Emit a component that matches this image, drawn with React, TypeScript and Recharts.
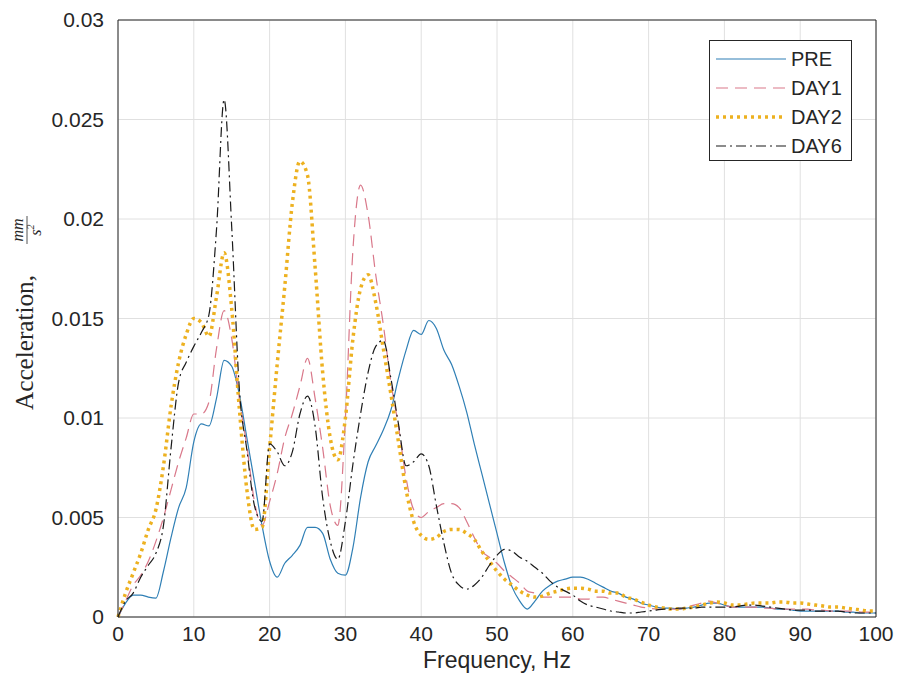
import React from 'react';
import { LineChart, Line, XAxis, YAxis, CartesianGrid, Legend, ReferenceLine } from 'recharts';

// frequency axis, Hz
const freq = [
  0, 1, 2, 3, 4, 5, 6, 7, 8, 9, 10, 11, 12, 13, 14, 15, 16, 17, 18, 19, 20,
  21, 22, 23, 24, 25, 26, 27, 28, 29, 30, 31, 32, 33, 34, 35, 36, 37, 38, 39, 40,
  41, 42, 43, 44, 45, 46, 47, 48, 49, 50, 51, 52, 53, 54, 55, 56, 57, 58, 59, 60,
  61, 62, 63, 64, 65, 66, 67, 68, 69, 70, 71, 72, 73, 74, 75, 76, 77, 78, 79, 80,
  81, 82, 83, 84, 85, 86, 87, 88, 89, 90, 91, 92, 93, 94, 95, 96, 97, 98, 99, 100,
];

// acceleration values in units of 0.001 mm/s^2
const pre = [
  0, 0.7, 1.1, 1.1, 1.0, 0.95, 2.3, 4.0, 5.5, 6.5, 8.8, 9.7, 9.6, 11.0, 12.9, 12.6, 11.2, 9.0, 6.8, 4.6, 2.8,
  2.0, 2.7, 3.1, 3.6, 4.5, 4.5, 4.2, 2.9, 2.2, 2.1, 3.5, 6.0, 7.8, 8.6, 9.4, 10.4, 12.0, 13.4, 14.4, 14.2,
  14.9, 14.5, 13.4, 12.7, 11.6, 10.3, 8.7, 7.2, 5.7, 4.2, 2.7, 1.5, 0.8, 0.4, 0.8, 1.3, 1.6, 1.8, 1.9, 2.0,
  2.0, 1.9, 1.7, 1.5, 1.3, 1.2, 1.0, 0.9, 0.7, 0.6, 0.5, 0.45, 0.45, 0.4, 0.45, 0.5, 0.6, 0.7, 0.7, 0.6,
  0.5, 0.5, 0.5, 0.5, 0.5, 0.45, 0.4, 0.4, 0.35, 0.3, 0.3, 0.3, 0.3, 0.3, 0.3, 0.25, 0.25, 0.2, 0.2, 0.2,
];
const day1 = [
  0, 0.8, 1.6, 2.1, 2.8, 3.8, 5.0, 6.4, 7.8, 9.0, 10.2, 10.2, 10.8, 13.5, 15.4, 14.0, 11.0, 8.6, 5.8, 4.6, 5.8,
  7.2, 9.0, 10.2, 11.6, 13.0, 11.0, 8.5, 5.6, 4.6, 10.0, 18.5, 21.7, 20.2, 17.2, 14.7, 11.8, 9.6, 7.0, 5.4, 5.0,
  5.3, 5.5, 5.7, 5.7, 5.5, 4.8, 4.0, 3.3, 3.0, 2.7, 2.3, 2.0, 1.7, 1.3, 1.2, 1.0, 1.0, 1.0, 1.0, 1.0,
  0.9, 0.9, 1.0, 1.0, 0.9, 0.8, 0.7, 0.6, 0.5, 0.45, 0.4, 0.4, 0.4, 0.4, 0.5, 0.6, 0.7, 0.8, 0.7, 0.6,
  0.5, 0.5, 0.5, 0.5, 0.45, 0.45, 0.4, 0.4, 0.4, 0.4, 0.4, 0.35, 0.35, 0.3, 0.3, 0.3, 0.3, 0.25, 0.25, 0.25,
];
const day2 = [
  0, 1.2, 2.2, 3.2, 4.4, 5.4, 7.6, 10.6, 12.8, 14.2, 15.0, 14.8, 14.1, 16.1, 18.3, 15.5, 10.5, 6.4, 4.4, 4.5, 8.5,
  12.7, 16.6, 20.8, 22.9, 22.2, 17.6, 12.3, 9.0, 7.9, 10.0, 14.0, 16.5, 17.2, 15.8, 13.5, 11.2, 8.8, 6.4, 4.8, 4.1,
  3.9, 4.0, 4.3, 4.4, 4.4, 4.2, 3.9, 3.3, 2.8, 2.3, 1.9, 1.6, 1.3, 1.1, 1.0, 1.05, 1.2, 1.3, 1.4, 1.45,
  1.45, 1.4, 1.3, 1.3, 1.2, 1.2, 1.0, 0.9, 0.75, 0.6, 0.5, 0.45, 0.4, 0.4, 0.45, 0.5, 0.6, 0.7, 0.75, 0.7,
  0.6, 0.6, 0.65, 0.7, 0.7, 0.7, 0.75, 0.75, 0.7, 0.7, 0.65, 0.6, 0.55, 0.5, 0.5, 0.45, 0.4, 0.35, 0.3, 0.3,
];
const day6 = [
  0, 0.8, 1.2, 2.0, 2.6, 3.2, 4.6, 8.5, 11.8, 12.8, 13.6, 14.3, 15.2, 19.5, 26.0, 19.6, 11.5, 8.4, 5.6, 4.8, 8.7,
  8.3, 7.6, 8.3, 10.2, 11.1, 9.6, 6.0, 3.8, 2.9, 4.8, 7.7, 10.2, 12.3, 13.6, 13.9, 12.0, 9.7, 7.6, 7.8, 8.2,
  7.6, 5.6, 3.7, 2.2, 1.6, 1.4, 1.6, 2.0, 2.6, 3.1, 3.4, 3.3, 3.0, 2.8, 2.5, 2.2, 1.8, 1.5, 1.3, 1.1,
  0.8, 0.6, 0.5, 0.4, 0.3, 0.25, 0.2, 0.2, 0.25, 0.3, 0.35, 0.4, 0.4, 0.45, 0.45, 0.45, 0.5, 0.5, 0.5, 0.5,
  0.5, 0.55, 0.6, 0.6, 0.55, 0.5, 0.45, 0.4, 0.35, 0.35, 0.35, 0.3, 0.3, 0.3, 0.3, 0.25, 0.2, 0.2, 0.2, 0.2,
];

const xTicks = [0, 10, 20, 30, 40, 50, 60, 70, 80, 90, 100];
const yTicks = [0, 0.005, 0.01, 0.015, 0.02, 0.025, 0.03];

const series = [
  { key: 'PRE', color: '#2f7fb5', width: 1.2, dash: undefined as string | undefined },
  { key: 'DAY1', color: '#d9788a', width: 1.2, dash: '12 7' },
  { key: 'DAY2', color: '#edb120', width: 3.5, dash: '3 4' },
  { key: 'DAY6', color: '#1a1a1a', width: 1.2, dash: '10 4 2 4' },
];

const data = freq.map((f, i) => ({
  f,
  PRE: pre[i] / 1000,
  DAY1: day1[i] / 1000,
  DAY2: day2[i] / 1000,
  DAY6: day6[i] / 1000,
}));

const axisColor = '#262626';
const sans = '"Liberation Sans", Arial, Helvetica, sans-serif';
const serif = '"Liberation Serif", "Times New Roman", serif';

const renderLegend = () => (
  <div
    style={{
      width: 143,
      height: 121,
      boxSizing: 'border-box',
      border: `1px solid ${axisColor}`,
      background: '#fff',
      paddingTop: 3,
    }}
  >
    {series.map((s) => (
      <div key={s.key} style={{ height: 29, display: 'flex', alignItems: 'center' }}>
        <svg width={76} height={10} style={{ marginLeft: 5 }}>
          <line
            x1={1}
            y1={5}
            x2={71}
            y2={5}
            stroke={s.color}
            strokeWidth={s.width}
            strokeDasharray={s.dash}
          />
        </svg>
        <span style={{ fontFamily: sans, fontSize: 20, color: axisColor, lineHeight: '20px' }}>{s.key}</span>
      </div>
    ))}
  </div>
);

export default function App() {
  return (
    <div style={{ position: 'absolute', left: 0, top: 0, width: 899, height: 690, background: '#fff' }}>
      <LineChart width={899} height={690} data={data} margin={{ top: 20, right: 23, left: 38, bottom: 43 }}>
        <CartesianGrid stroke="#e0e0e0" strokeWidth={1} />
        <XAxis
          dataKey="f"
          type="number"
          domain={[0, 100]}
          ticks={xTicks}
          height={30}
          tickLine={false}
          tickSize={6}
          tickMargin={3}
          stroke={axisColor}
          tick={{ fill: axisColor, fontFamily: sans, fontSize: 21 }}
        />
        <YAxis
          type="number"
          domain={[0, 0.03]}
          ticks={yTicks}
          width={80}
          tickLine={false}
          tickSize={6}
          tickMargin={8}
          stroke={axisColor}
          tick={{ fill: axisColor, fontFamily: sans, fontSize: 21 }}
        />
        <ReferenceLine x={100} stroke={axisColor} strokeWidth={1} />
        <ReferenceLine y={0.03} stroke={axisColor} strokeWidth={1} />
        {series.map((s) => (
          <Line
            key={s.key}
            type="monotone"
            dataKey={s.key}
            stroke={s.color}
            strokeWidth={s.width}
            strokeDasharray={s.dash}
            dot={false}
            activeDot={false}
            isAnimationActive={false}
          />
        ))}
        <Legend
          layout="horizontal"
          verticalAlign="middle"
          align="center"
          content={renderLegend}
          wrapperStyle={{ left: 709, top: 40, width: 143, height: 121, right: 'auto', bottom: 'auto' }}
        />
      </LineChart>
      <svg
        width={899}
        height={690}
        style={{ position: 'absolute', left: 0, top: 0, pointerEvents: 'none' }}
      >
        <text x={497} y={668} textAnchor="middle" fontFamily={sans} fontSize={23} fill={axisColor}>
          Frequency, Hz
        </text>
        <g transform="translate(26,318) rotate(-90)">
          <text
            x={-92}
            y={7}
            fontFamily={serif}
            fontSize={25}
            textLength={135}
            lengthAdjust="spacingAndGlyphs"
            fill={axisColor}
          >
            Acceleration,
          </text>
          <text x={88} y={-3} textAnchor="middle" fontFamily={serif} fontStyle="italic" fontSize={16} fill={axisColor}>
            mm
          </text>
          <line x1={74} y1={1} x2={102} y2={1} stroke={axisColor} strokeWidth={0.8} />
          <text x={88} y={15} textAnchor="middle" fontFamily={serif} fontStyle="italic" fontSize={16} fill={axisColor}>
            s
            <tspan fontSize={10} dy={-7}>2</tspan>
          </text>
        </g>
      </svg>
    </div>
  );
}
